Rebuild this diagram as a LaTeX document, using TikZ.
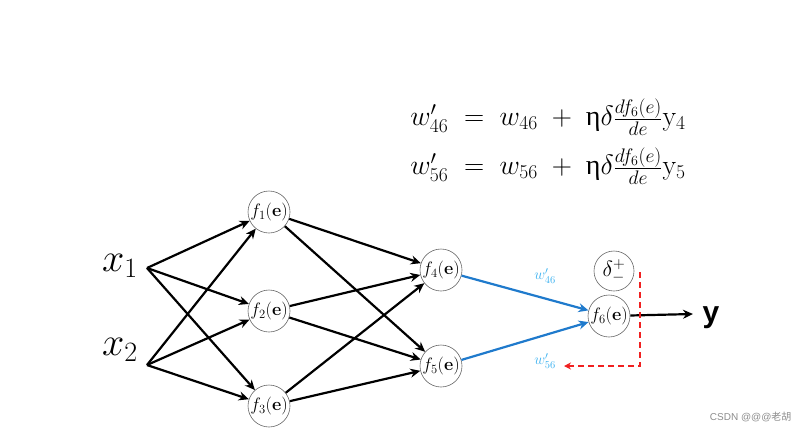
\documentclass[tikz,border=0pt]{standalone}
\usepackage{fix-cm}
\usepackage{fontspec}
\newfontfamily\cjk{Noto Sans CJK SC}
\newfontfamily\sansf{Liberation Sans}
\newfontfamily\grk{Liberation Serif}
\usetikzlibrary{arrows.meta}
\definecolor{wblue}{HTML}{1F7ACC}
\definecolor{lblue}{HTML}{3DB2F0}
\definecolor{dred}{HTML}{F02020}
\tikzset{
  neuron/.style={circle,draw=black!60,line width=0.6pt,minimum size=42pt,inner sep=0pt,font=\fontsize{18}{20}\selectfont},
  conn/.style={line width=2.2pt,-{Stealth[length=10pt,width=9pt]}},
  bconn/.style={line width=2.2pt,wblue,-{Stealth[length=10pt,width=9pt]}},
  inlab/.style={inner sep=0pt,font=\fontsize{40}{44}\selectfont},
  wlab/.style={lblue,font=\fontsize{15}{17}\selectfont},
}
\newcommand{\upeta}{\mbox{\grk η}}
\begin{document}
\begin{tikzpicture}[x=1pt,y=-1pt]
\useasboundingbox (0,0) rectangle (808,434);
% equations
\node[font=\fontsize{28}{32}\selectfont] (eqa) at (548,117) {$w'_{46} \;=\; w_{46} \;+\; \upeta\delta\frac{df_6(e)}{de}\mathrm{y}_4$};
\node[font=\fontsize{28}{32}\selectfont] (eqb) at (548,166) {$w'_{56} \;=\; w_{56} \;+\; \upeta\delta\frac{df_6(e)}{de}\mathrm{y}_5$};
% inputs
\node[inlab] (x1t) at (120,266) {$x_1$};
\node[inlab] (x2t) at (120,350) {$x_2$};
\coordinate (x1) at (147,268);
\coordinate (x2) at (147,365);
% neurons
\node[neuron] (f1) at (269,212) {$f_1$(\textbf{e})};
\node[neuron] (f2) at (269,311) {$f_2$(\textbf{e})};
\node[neuron] (f3) at (269,406) {$f_3$(\textbf{e})};
\node[neuron] (f4) at (441,270) {$f_4$(\textbf{e})};
\node[neuron] (f5) at (441,366) {$f_5$(\textbf{e})};
\node[neuron] (f6) at (609,316) {$f_6$(\textbf{e})};
\node[neuron,minimum size=40pt,font=\fontsize{22}{24}\selectfont] (d) at (614,271) {$\delta^{+}_{-}$};
\node[font=\sansf\bfseries\fontsize{30}{34}\selectfont,inner sep=0pt] (y) at (711,318) {y};
% connections
\foreach \s in {x1,x2}{
  \foreach \t in {f1,f2,f3}{
    \draw[conn] (\s) -- (\t);
  }
}
\foreach \s in {f1,f2,f3}{
  \foreach \t in {f4,f5}{
    \draw[conn] (\s) -- (\t);
  }
}
\draw[bconn] (f4) -- (f6);
\draw[bconn] (f5) -- (f6);
\draw[conn] (f6) -- (693,314) coordinate (yend);
\node[wlab] (w46) at (545,276) {$w'_{46}$};
\node[wlab] (w56) at (545,361) {$w'_{56}$};
% error feedback
\coordinate (r0) at (640,272);
\coordinate (r1) at (640,366);
\coordinate (r2) at (564,366);
\draw[dred,line width=1.6pt,dash pattern=on 6pt off 4pt,-{Stealth[length=7pt,width=7pt]}] (r0) -- (r1) -- (r2);
% watermark
\node[black!45,font=\sansf\fontsize{10}{12}\selectfont,anchor=east] (wm) at (795,417) {CSDN @@@{\cjk 老胡}};
\end{tikzpicture}
\end{document}
